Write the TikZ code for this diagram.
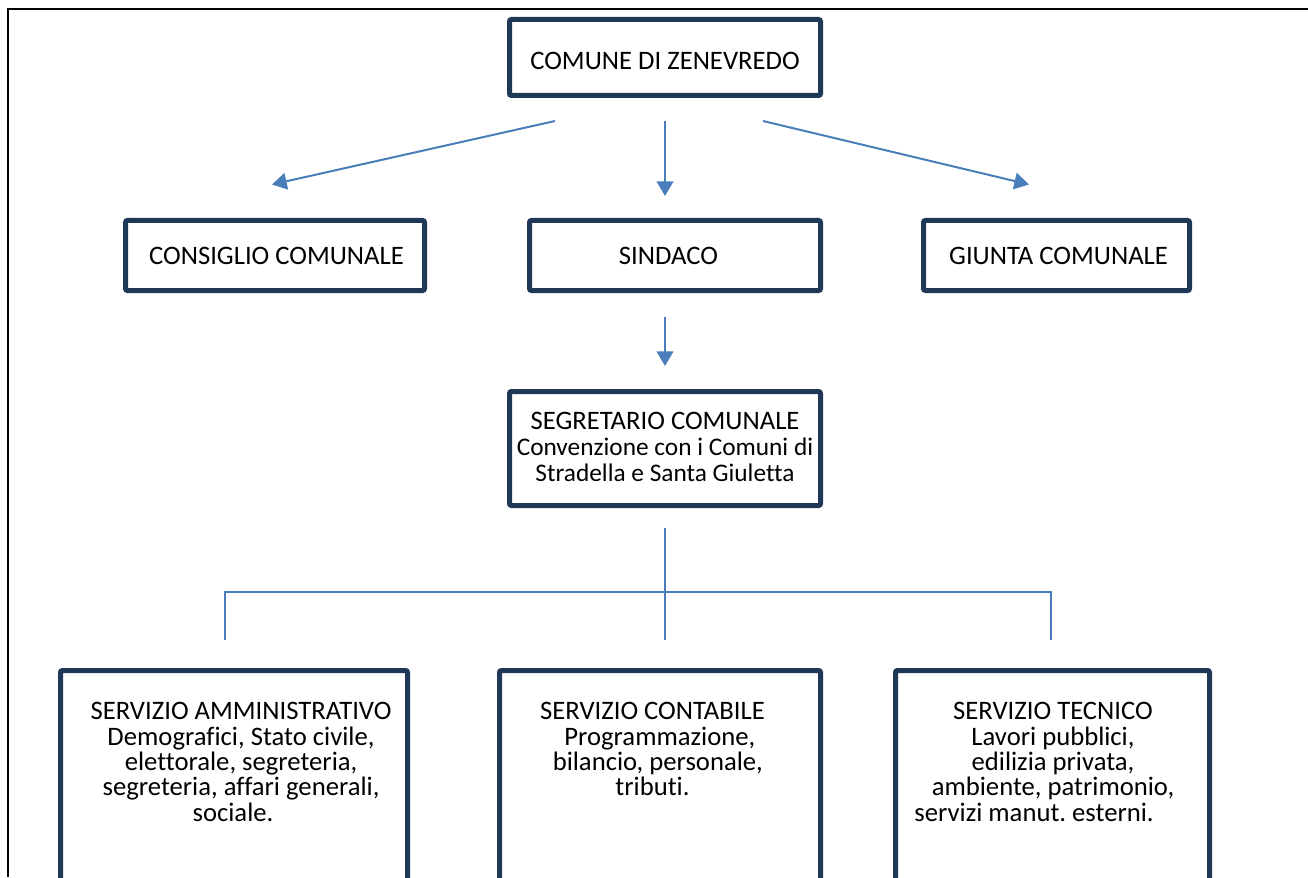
\documentclass[tikz,border=0pt]{standalone}
\usepackage{fontspec}
\setmainfont[Ligatures=NoCommon]{Carlito}
\usetikzlibrary{arrows.meta}
\definecolor{boxc}{HTML}{1F3857}
\definecolor{linec}{HTML}{4A7EBB}
\frenchspacing
\begin{document}
\begin{tikzpicture}[x=0.75pt,y=-0.75pt,
  box/.style={draw=boxc, line width=3.75pt, rounded corners=1.5pt, inner sep=0pt, outer sep=0pt},
  lbl/.style={font=\fontsize{20pt}{19.1pt}\selectfont, align=center, inner sep=0pt},
  conn/.style={draw=linec, line width=1.5pt, -{Triangle[length=11pt,width=12.5pt]}},
  link/.style={draw=linec, line width=1.5pt}]
\useasboundingbox (0,0) rectangle (1308,877);
\draw[line width=1.5pt] (1308,9.5) -- (7.5,9.5) -- (7.5,877);

% top
\node[box, minimum width=311*0.75pt, minimum height=76*0.75pt] (top) at (665,57.5) {};
\node[lbl] (topt) at (665,61) {COMUNE DI ZENEVREDO};

% second row
\node[box, minimum width=299*0.75pt, minimum height=70*0.75pt] (cons) at (275,255.5) {};
\node[lbl] (const) at (276.5,256) {CONSIGLIO COMUNALE};
\node[box, minimum width=291*0.75pt, minimum height=70*0.75pt] (sind) at (675,255.5) {};
\node[lbl] (sindt) at (668.5,256) {SINDACO};
\node[box, minimum width=266*0.75pt, minimum height=70*0.75pt] (giun) at (1056.5,255.5) {};
\node[lbl] (giunt) at (1058.5,256) {GIUNTA COMUNALE};

% segretario
\node[box, minimum width=311*0.75pt, minimum height=114*0.75pt] (segr) at (665,448.5) {};
\node[lbl, font=\fontsize{20pt}{19.6pt}\selectfont] (segrt) at (665,447) {SEGRETARIO COMUNALE\\{\fontsize{19pt}{19.6pt}\selectfont Convenzione con i Comuni di}\\{\fontsize{19pt}{19.6pt}\selectfont Stradella e Santa Giuletta}};

% bottom boxes (extend past the page edge)
\node[box, minimum width=347*0.75pt, minimum height=300*0.75pt, anchor=north] (amm) at (234,670.5) {};
\node[lbl, anchor=north] (ammt) at (241,702) {SERVIZIO AMMINISTRATIVO\\Demografici, Stato civile,\hspace*{4.5pt}\\elettorale, segreteria,\hspace*{25.5pt}\\segreteria, affari generali,\\sociale.\hspace*{12pt}};
\node[box, minimum width=321*0.75pt, minimum height=300*0.75pt, anchor=north] (cont) at (660,670.5) {};
\node[lbl, anchor=north] (contt) at (652.5,702) {SERVIZIO CONTABILE\\\hspace*{11pt}Programmazione,\\\hspace*{8pt}bilancio, personale,\\tributi.};
\node[box, minimum width=314*0.75pt, minimum height=300*0.75pt, anchor=north] (tec) at (1052.5,670.5) {};
\node[lbl, anchor=north] (tect) at (1053,702) {SERVIZIO TECNICO\\Lavori pubblici,\\edilizia privata,\hspace*{37.5pt}\\ambiente, patrimonio,\hspace*{10.5pt}\\servizi manut. esterni.\hspace*{28.5pt}};

% connectors
\coordinate (a1) at (555,121);
\coordinate (a2) at (665,121);
\coordinate (a3) at (763,121);
\coordinate (b1) at (272,184.5);
\coordinate (b2) at (665,196);
\coordinate (b3) at (1029,184.5);
\draw[conn] (a1) -- (b1);
\draw[conn] (a2) -- (b2);
\draw[conn] (a3) -- (b3);

\coordinate (s1) at (665,317);
\coordinate (s2) at (665,366);
\draw[conn] (s1) -- (s2);

\coordinate (t0) at (665,528);
\coordinate (tm) at (665,592);
\coordinate (t2) at (665,640);
\coordinate (tl) at (225,592);
\coordinate (tr) at (1051,592);
\coordinate (t1) at (225,640);
\coordinate (t3) at (1051,640);
\draw[link] (t0) -- (t2);
\draw[link] (t1) -- (tl) -- (tr) -- (t3);
\end{tikzpicture}
\end{document}
